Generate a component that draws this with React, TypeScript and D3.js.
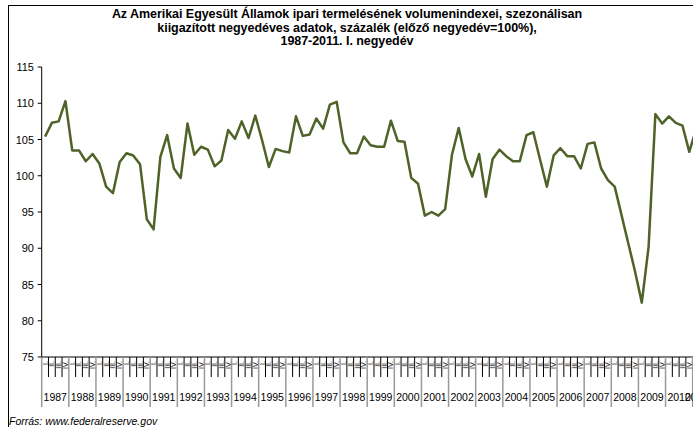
import React from "react";
import * as d3 from "d3";

const years = [
  "1987","1988","1989","1990","1991","1992","1993","1994","1995","1996","1997","1998",
  "1999","2000","2001","2002","2003","2004","2005","2006","2007","2008","2009","2010","2011",
];
const quarterNames = ["I.", "II.", "III.", "IV."];
const values = [
  105.4, 107.3, 107.5, 110.3,
  103.5, 103.5, 102.0, 103.0,
  101.7, 98.5, 97.6, 101.9,
  103.1, 102.8, 101.6, 94.0,
  92.6, 102.6, 105.6, 101.0,
  99.7, 107.2, 102.9, 104.0,
  103.6, 101.3, 102.1, 106.3,
  105.1, 107.5, 105.2, 108.3,
  104.9, 101.2, 103.7, 103.4,
  103.2, 108.2, 105.5, 105.7,
  107.9, 106.5, 109.8, 110.2,
  104.6, 103.1, 103.1, 105.4,
  104.2, 104.0, 104.0, 107.6,
  104.8, 104.7, 99.7, 98.9,
  94.5, 95.0, 94.5, 95.4,
  102.9, 106.6, 102.3, 99.9,
  103.0, 97.1, 102.3, 103.6,
  102.7, 102.0, 102.0, 105.6,
  106.0, 102.2, 98.5, 102.8,
  103.8, 102.7, 102.7, 101.0,
  104.4, 104.6, 101.0, 99.4,
  98.5, 94.6, 90.7, 86.8,
  82.5, 90.2, 108.5, 107.2,
  108.2, 107.3, 106.9, 103.3,
  106.4,
];
const yTicks = [75, 80, 85, 90, 95, 100, 105, 110, 115];
const titleLines = [
  "Az Amerikai Egyesült Államok ipari termelésének volumenindexei, szezonálisan",
  "kiigazított negyedéves adatok, százalék (előző negyedév=100%),",
  "1987-2011. I. negyedév",
];
const sourceText = "Forrás: www.federalreserve.gov";

const W = 693;
const H = 427;
const FONT = "'Liberation Sans', Arial, sans-serif";

export default function App() {
  const quarters = values.map((_, i) => `${years[Math.floor(i / 4)]}-${quarterNames[i % 4]}`);
  const x = d3.scaleBand<string>().domain(quarters).range([41.7, 41.7 + 97 * 6.781]).padding(0);
  const y = d3.scaleLinear().domain([75, 115]).range([357, 67]);
  const bw = x.bandwidth();
  const line = d3
    .line<number>()
    .x((_, i) => (x(quarters[i]) as number) + bw / 2)
    .y((d) => y(d));
  const x0 = 41.7;
  const axisY = y(75);

  return (
    <div style={{ position: "absolute", left: 0, top: 0 }}>
      <svg width={W} height={H} style={{ display: "block", background: "#fff" }}>
        <rect x={0} y={0} width={W} height={H} fill="#fff" />
        <rect x={8.5} y={5.5} width={W + 10} height={H + 10} fill="none" stroke="#000" strokeWidth={1} />
        {titleLines.map((t, i) => (
          <text
            key={i}
            x={347}
            y={18 + i * 13.7}
            textAnchor="middle"
            fontFamily={FONT}
            fontWeight="bold"
            fontSize={12.5}
            letterSpacing={-0.05}
            fill="#000"
          >
            {t}
          </text>
        ))}
        <defs>
          <clipPath id="plotclip">
            <rect x={0} y={0} width={W} height={H} />
          </clipPath>
        </defs>
        {/* y axis */}
        <line x1={x0} x2={x0} y1={y(115)} y2={axisY} stroke="#000" strokeWidth={1} />
        {yTicks.map((t) => (
          <g key={t}>
            <line x1={x0 - 4} x2={x0} y1={y(t)} y2={y(t)} stroke="#000" />
            <text
              x={34}
              y={y(t) + 4}
              textAnchor="end"
              fontFamily={FONT}
              fontSize={11}
              fill="#000"
            >
              {t}
            </text>
          </g>
        ))}
        {/* x axis */}
        <line x1={x0} x2={W} y1={axisY} y2={axisY} stroke="#000" />
        {quarters.map((q, i) => {
          const xl = x(q) as number;
          const isYearStart = i % 4 === 0;
          return (
            <g key={q}>
              <line
                x1={xl}
                x2={xl}
                y1={axisY}
                y2={isYearStart ? 407 : 377}
                stroke={isYearStart ? "#999" : "#000"}
                strokeWidth={isYearStart ? 1.5 : 1}
              />
              <text
                transform={`translate(${xl + bw / 2 + 2.5},${361}) rotate(-90)`}
                textAnchor="end"
                fontFamily={FONT}
                fontSize={7}
                fill="#000"
              >
                {quarterNames[i % 4]}
              </text>
            </g>
          );
        })}
        {years.map((yr, k) => {
          const start = x(quarters[k * 4]) as number;
          const n = Math.min(4, quarters.length - k * 4);
          const cx = start + (n * bw) / 2;
          return (
            <text
              key={yr}
              x={cx}
              y={401}
              textAnchor="middle"
              fontFamily={FONT}
              fontSize={10.5}
              fill="#000"
            >
              {yr}
            </text>
          );
        })}
        <path
          d={line(values) || ""}
          fill="none"
          stroke="#4F6228"
          strokeWidth={2.5}
          strokeLinejoin="round"
          clipPath="url(#plotclip)"
        />
        <text x={9} y={425} fontFamily={FONT} fontStyle="italic" fontSize={10.5} fill="#000">
          {sourceText}
        </text>
      </svg>
    </div>
  );
}
